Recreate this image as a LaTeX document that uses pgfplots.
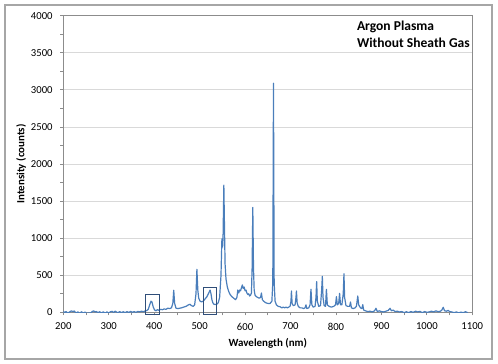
\documentclass[border=0pt]{standalone}
\usepackage{fontspec}
\setmainfont{Carlito}
\usepackage{pgfplots}
\pgfplotsset{compat=1.18}
\definecolor{lineblue}{HTML}{4A7EBB}
\definecolor{boxblue}{HTML}{2F4E79}
\definecolor{gridgray}{HTML}{D9D9D9}
\definecolor{axisgray}{HTML}{8C8C8C}
\definecolor{framegray}{HTML}{A6A6A6}
\begin{document}
\begin{tikzpicture}
\path (0,0) rectangle (498bp,364bp);
\draw[color=framegray, line width=1.3bp] (5bp,5bp) rectangle (492bp,359bp);
\begin{axis}[
  at={(63.3bp,51.7bp)}, anchor=south west,
  scale only axis, width=409bp, height=296.6bp,
  xmin=200, xmax=1100, ymin=0, ymax=4000,
  xtick={200,300,...,1100}, ytick={0,500,...,4000},
  minor x tick num=1, minor y tick num=1,
  ymajorgrids, major grid style={gridgray, line width=0.8bp},
  axis line style={axisgray, line width=0.8bp},
  every tick/.style={axisgray, line width=0.8bp},
  tick align=outside, major tick length=3bp, minor tick length=3bp,
  xtick pos=left, ytick pos=left,
  /pgf/number format/.cd, 1000 sep={}, assume math mode=true, /pgfplots/.cd,
  tick label style={font=\fontsize{10.7}{12}\selectfont, color=black},
  yticklabel style={inner sep=0pt, xshift=-7.5bp},
  xticklabel style={inner sep=0pt, yshift=-7.5bp},
  xlabel={Wavelength (nm)}, ylabel={Intensity (counts)},
  every axis x label/.style={at={(axis description cs:0.5,-0.1045)}, anchor=center, font=\bfseries\fontsize{11}{13}\selectfont},
  every axis y label/.style={at={(axis description cs:-0.1027,0.5)}, anchor=center, rotate=90, font=\bfseries\fontsize{11}{13}\selectfont},
  clip mode=individual,
]
\addplot[lineblue, line width=1.2bp, line join=round] table[row sep=\\] {
x y\\
200 15\\ 203 -5\\ 206 10\\ 210 -10\\ 214 5\\ 218 20\\ 221 8\\ 224 18\\ 228 -10\\ 232 5\\
236 -15\\ 240 8\\ 244 -12\\ 248 3\\ 252 -15\\ 256 -8\\ 260 -12\\ 264 12\\ 267 18\\ 270 5\\
273 10\\ 276 -8\\ 280 8\\ 284 -10\\ 288 6\\ 292 -12\\ 296 5\\ 300 -10\\ 304 8\\ 308 12\\
311 -5\\ 314 15\\ 317 5\\ 320 -8\\ 324 10\\ 328 -5\\ 332 8\\ 336 -6\\ 340 10\\ 344 -3\\
348 12\\ 352 0\\ 356 10\\ 360 -2\\ 364 12\\ 368 5\\ 372 15\\ 376 8\\ 380 18\\ 384 25\\
387 40\\ 390 100\\ 393 150\\ 395 140\\ 398 70\\ 401 30\\ 404 20\\ 407 35\\ 410 28\\ 414 40\\
418 35\\ 422 45\\ 426 40\\ 430 55\\ 434 50\\ 438 60\\ 441 120\\ 443 297\\ 445 120\\ 448 55\\
452 50\\ 456 55\\ 460 60\\ 465 70\\ 470 80\\ 474 95\\ 477 105\\ 479 108\\ 482 90\\ 486 80\\
489 100\\ 492 250\\ 494 580\\ 496 300\\ 498 190\\ 501 150\\ 504 140\\ 508 150\\ 512 180\\ 516 210\\
520 260\\ 523 300\\ 525 250\\ 527 170\\ 529 130\\ 531 110\\ 534 105\\ 538 110\\ 541 130\\ 544 200\\
547 500\\ 549 990\\ 550.5 880\\ 551.5 1000\\ 553.3 1715\\ 554.8 1100\\ 556 650\\ 558 450\\ 561 340\\ 564 280\\
567 240\\ 571 210\\ 575 190\\ 579 170\\ 582 200\\ 584 300\\ 586 260\\ 588 300\\ 590 290\\ 592 330\\
594 370\\ 596 320\\ 598 340\\ 600 290\\ 602 300\\ 604 260\\ 606 240\\ 608 250\\ 610 220\\ 612 230\\
614 260\\ 615.5 600\\ 617 1415\\ 618.5 600\\ 620 300\\ 622 230\\ 625 210\\ 628 200\\ 631 190\\ 634 200\\
636 260\\ 638 170\\ 641 150\\ 645 130\\ 650 120\\ 655 120\\ 659 150\\ 661 400\\ 662.5 3090\\ 664 400\\
666 150\\ 669 100\\ 673 80\\ 677 75\\ 681 60\\ 684 70\\ 687 60\\ 690 70\\ 693 60\\ 696 70\\
699 80\\ 701 150\\ 702 288\\ 703.5 120\\ 706 90\\ 710 100\\ 712 200\\ 713 288\\ 714.5 130\\ 717 80\\
721 60\\ 725 60\\ 729 50\\ 732 60\\ 734 100\\ 736 50\\ 740 60\\ 743 100\\ 745 310\\ 747 100\\
750 70\\ 754 80\\ 756 200\\ 757.5 413\\ 759 150\\ 762 80\\ 766 90\\ 768.5 300\\ 770 485\\ 771.5 200\\
774 90\\ 777 80\\ 779 310\\ 781 100\\ 785 80\\ 790 70\\ 795 80\\ 799 100\\ 801 211\\ 803 100\\
806 120\\ 808 256\\ 810 100\\ 813 100\\ 816 250\\ 817.6 521\\ 819 200\\ 822 90\\ 826 80\\ 830 80\\
832 139\\ 834 60\\ 838 50\\ 842 60\\ 845 80\\ 848 220\\ 850 100\\ 854 60\\ 857 50\\ 859 103\\
861 30\\ 865 20\\ 870 10\\ 875 15\\ 880 5\\ 885 20\\ 888 54\\ 891 10\\ 895 20\\ 900 10\\
905 5\\ 910 15\\ 915 25\\ 919 54\\ 922 20\\ 926 30\\ 930 10\\ 935 15\\ 940 5\\ 945 10\\
950 -5\\ 955 8\\ 960 -5\\ 965 10\\ 970 0\\ 975 15\\ 980 5\\ 985 12\\ 990 -5\\ 995 10\\
1000 0\\ 1005 5\\ 1010 15\\ 1015 5\\ 1020 20\\ 1025 8\\ 1030 15\\ 1033 30\\ 1036 67\\ 1039 20\\
1043 15\\ 1047 25\\ 1050 10\\ 1055 5\\ 1060 -5\\ 1065 5\\ 1070 -8\\ 1075 3\\ 1080 -6\\ 1085 8\\
1090 -5\\
};
\draw[boxblue, line width=1.2bp] (axis cs:381,238) rectangle (axis cs:411,-31);
\draw[boxblue, line width=1.2bp] (axis cs:508,337) rectangle (axis cs:537,-31);
\end{axis}
\node[anchor=base west, font=\bfseries\fontsize{13.6}{15}\selectfont] at (353.5bp,333bp) {Argon Plasma};
\node[anchor=base west, font=\bfseries\fontsize{13.6}{15}\selectfont] at (353.5bp,316.3bp) {Without Sheath Gas};
\end{tikzpicture}
\end{document}
